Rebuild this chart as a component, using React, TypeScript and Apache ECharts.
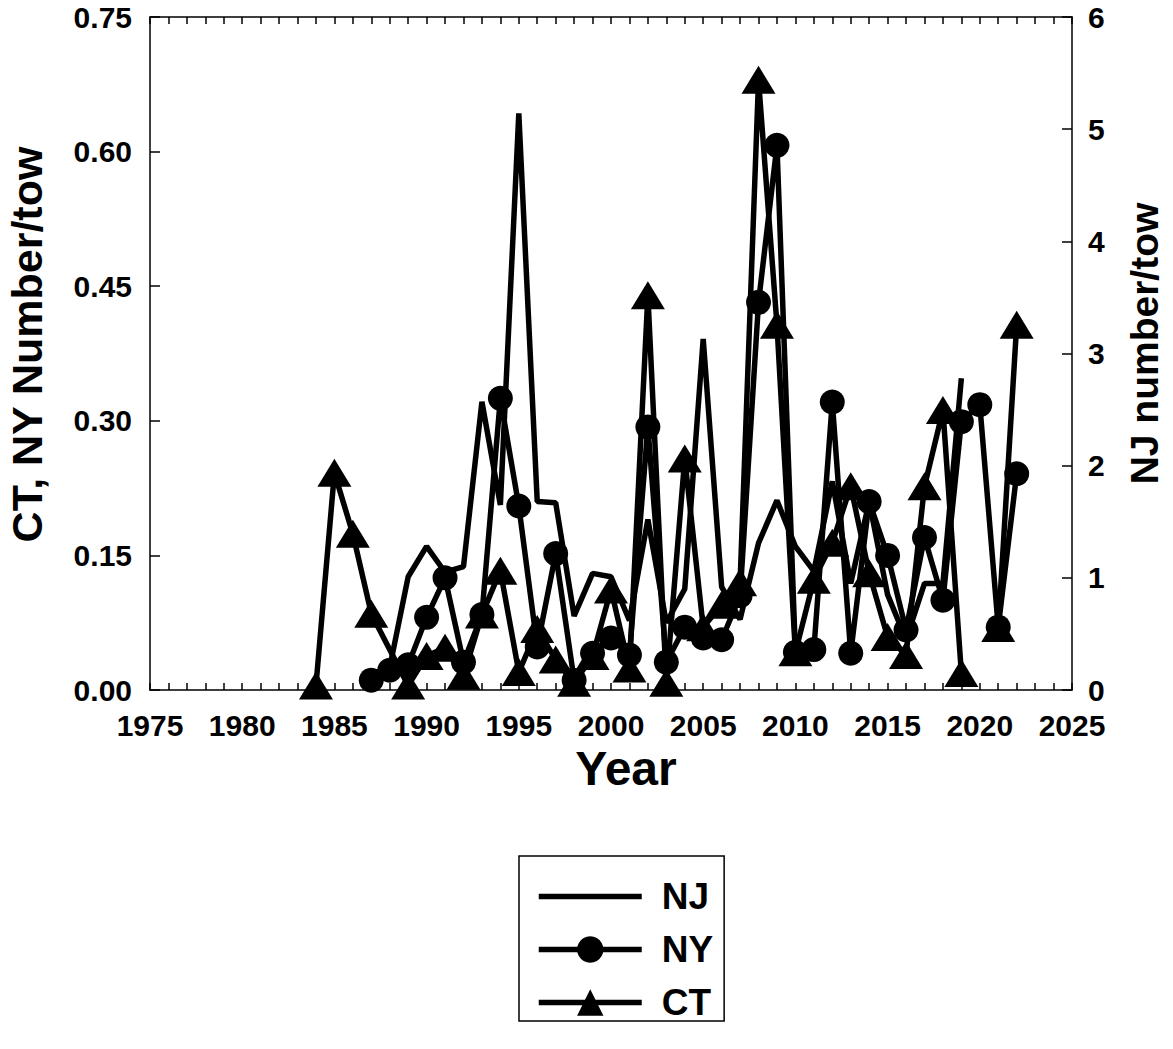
import React, { useEffect, useRef } from "react";
import * as echarts from "echarts";

// ---- Data ----
const njYears = [1988, 1989, 1990, 1991, 1992, 1993, 1994, 1995, 1996, 1997, 1998, 1999, 2000, 2001, 2002, 2003, 2004, 2005, 2006, 2007, 2008, 2009, 2010, 2011, 2012, 2013, 2014, 2015, 2016, 2017, 2018, 2019];
const njValues = [0.2, 1.01, 1.28, 1.05, 1.1, 2.57, 1.65, 5.14, 1.68, 1.67, 0.66, 1.04, 1.01, 0.62, 1.52, 0.6, 0.9, 3.13, 0.92, 0.63, 1.31, 1.69, 1.28, 1.06, 1.86, 0.95, 1.68, 0.85, 0.45, 0.95, 0.95, 2.78];

const nyYears = [1987, 1988, 1989, 1990, 1991, 1992, 1993, 1994, 1995, 1996, 1997, 1998, 1999, 2000, 2001, 2002, 2003, 2004, 2005, 2006, 2007, 2008, 2009, 2010, 2011, 2012, 2013, 2014, 2015, 2016, 2017, 2018, 2019, 2020, 2021, 2022];
const nyValues = [0.011, 0.022, 0.028, 0.081, 0.125, 0.031, 0.084, 0.325, 0.205, 0.048, 0.152, 0.011, 0.041, 0.058, 0.039, 0.293, 0.031, 0.07, 0.058, 0.056, 0.105, 0.432, 0.607, 0.042, 0.045, 0.321, 0.041, 0.21, 0.15, 0.067, 0.17, 0.1, 0.299, 0.318, 0.07, 0.241];

const ctYears = [1984, 1985, 1986, 1987, 1989, 1990, 1991, 1992, 1993, 1994, 1995, 1996, 1997, 1998, 1999, 2000, 2001, 2002, 2003, 2004, 2005, 2006, 2007, 2008, 2009, 2010, 2011, 2012, 2013, 2014, 2015, 2016, 2017, 2018, 2019, 2020, 2021, 2022];
const ctValues: (number | null)[] = [0.005, 0.242, 0.174, 0.085, 0.005, 0.038, 0.047, 0.016, 0.084, 0.133, 0.02, 0.068, 0.034, 0.008, 0.038, 0.112, 0.024, 0.44, 0.008, 0.258, 0.07, 0.095, 0.12, 0.68, 0.407, 0.042, 0.123, 0.164, 0.227, 0.13, 0.059, 0.039, 0.227, 0.312, 0.019, null, 0.069, 0.407];

const xTicks = { min: 1975, max: 2025, step: 5 };
const leftTicks = { min: 0, max: 0.75, step: 0.15 };
const rightTicks = { min: 0, max: 6, step: 1 };

const seriesNames = ["NJ", "NY", "CT"];

const FONT = '"Liberation Sans", Arial, Helvetica, sans-serif';

function pairs(xs: number[], ys: (number | null)[]) {
  return xs.map((x, i) => [x, ys[i] === null ? "-" : ys[i]]);
}

export default function App() {
  const ref = useRef<HTMLDivElement>(null);

  useEffect(() => {
    if (!ref.current) return;
    const chart = echarts.init(ref.current, null, { renderer: "svg" });

    const black = "#000";
    const labelStyle = {
      color: black,
      fontSize: 30,
      fontWeight: "bold" as const,
      fontFamily: FONT,
    };
    const lineW = 1.5;
    const seriesLineW = 5.5;

    const option: any = {
      animation: false,
      backgroundColor: "#fff",
      grid: {
        left: 150,
        right: 101,
        top: 17,
        bottom: 359,
        containLabel: false,
        outerBoundsMode: "none",
      },
      legend: {
        orient: "vertical",
        left: 519,
        top: 856,
        itemWidth: 103,
        itemHeight: 33,
        itemGap: 16,
        borderColor: black,
        borderWidth: 1.5,
        borderRadius: 0,
        padding: [22, 11, 0, 17],
        selectedMode: false,
        lineStyle: { width: seriesLineW },
        data: [
          { name: "NJ", itemStyle: { opacity: 0 } },
          { name: "NY" },
          { name: "CT" },
        ],
        textStyle: {
          color: black,
          fontSize: 37,
          fontWeight: "bold",
          fontFamily: FONT,
          lineHeight: 33,
          padding: [0, 0, 0, 15],
        },
      },
      xAxis: [
        {
          type: "value",
          position: "bottom",
          min: xTicks.min,
          max: xTicks.max,
          interval: xTicks.step,
          axisLine: { show: true, onZero: false, lineStyle: { color: black, width: lineW } },
          axisTick: { show: true, inside: true, length: 7, lineStyle: { color: black, width: lineW } },
          minorTick: { show: true, splitNumber: 5, length: 7, lineStyle: { color: black, width: lineW } },
          splitLine: { show: false },
          minorSplitLine: { show: false },
          axisLabel: { ...labelStyle, margin: 20, formatter: (v: number) => String(v) },
          name: "Year",
          nameLocation: "middle",
          nameGap: 50,
          nameTextStyle: {
            color: black,
            fontSize: 48,
            fontWeight: "bold",
            fontFamily: FONT,
            padding: [0, 0, 0, 30],
          },
        },
        {
          type: "value",
          position: "top",
          min: xTicks.min,
          max: xTicks.max,
          interval: xTicks.step,
          axisLine: { show: true, onZero: false, lineStyle: { color: black, width: lineW } },
          axisTick: { show: true, inside: true, length: 7, lineStyle: { color: black, width: lineW } },
          minorTick: { show: true, splitNumber: 5, length: 7, lineStyle: { color: black, width: lineW } },
          splitLine: { show: false },
          axisLabel: { show: false },
        },
      ],
      yAxis: [
        {
          type: "value",
          position: "left",
          min: leftTicks.min,
          max: leftTicks.max,
          interval: leftTicks.step,
          axisLine: { show: true, onZero: false, lineStyle: { color: black, width: lineW } },
          axisTick: { show: true, inside: true, length: 10, lineStyle: { color: black, width: lineW } },
          splitLine: { show: false },
          axisLabel: { ...labelStyle, margin: 18, formatter: (v: number) => v.toFixed(2) },
          name: "CT, NY Number/tow",
          nameLocation: "middle",
          nameRotate: 90,
          nameGap: 102,
          nameTextStyle: {
            color: black,
            fontSize: 43,
            fontWeight: "bold",
            fontFamily: FONT,
            padding: [0, 0, 0, 18],
          },
        },
        {
          type: "value",
          position: "right",
          min: rightTicks.min,
          max: rightTicks.max,
          interval: rightTicks.step,
          axisLine: { show: true, onZero: false, lineStyle: { color: black, width: lineW } },
          axisTick: { show: true, inside: true, length: 10, lineStyle: { color: black, width: lineW } },
          splitLine: { show: false },
          axisLabel: { ...labelStyle, margin: 16, formatter: (v: number) => String(v) },
          name: "NJ number/tow",
          nameLocation: "middle",
          nameRotate: 90,
          nameGap: 53,
          nameTextStyle: {
            color: black,
            fontSize: 39,
            fontWeight: "bold",
            fontFamily: FONT,
            padding: [0, 0, 0, 20],
          },
        },
      ],
      series: [
        {
          name: seriesNames[0],
          type: "line",
          xAxisIndex: 0,
          yAxisIndex: 1,
          data: pairs(njYears, njValues),
          symbol: "circle",
          showSymbol: false,
          color: black,
          lineStyle: { color: black, width: seriesLineW },
          itemStyle: { color: black },
          emphasis: { disabled: true },
          z: 2,
        },
        {
          name: seriesNames[1],
          type: "line",
          xAxisIndex: 0,
          yAxisIndex: 0,
          data: pairs(nyYears, nyValues),
          symbol: "circle",
          symbolSize: 25,
          color: black,
          lineStyle: { color: black, width: seriesLineW },
          itemStyle: { color: black },
          emphasis: { disabled: true },
          z: 3,
        },
        {
          name: seriesNames[2],
          type: "line",
          xAxisIndex: 0,
          yAxisIndex: 0,
          data: pairs(ctYears, ctValues),
          connectNulls: false,
          symbol: "triangle",
          symbolSize: [34, 28],
          color: black,
          lineStyle: { color: black, width: seriesLineW },
          itemStyle: { color: black },
          emphasis: { disabled: true },
          z: 2,
        },
      ],
    };

    chart.setOption(option);
    return () => chart.dispose();
  }, []);

  return (
    <div
      ref={ref}
      style={{ position: "fixed", left: 0, top: 0, width: 1173, height: 1049, background: "#fff" }}
    />
  );
}
